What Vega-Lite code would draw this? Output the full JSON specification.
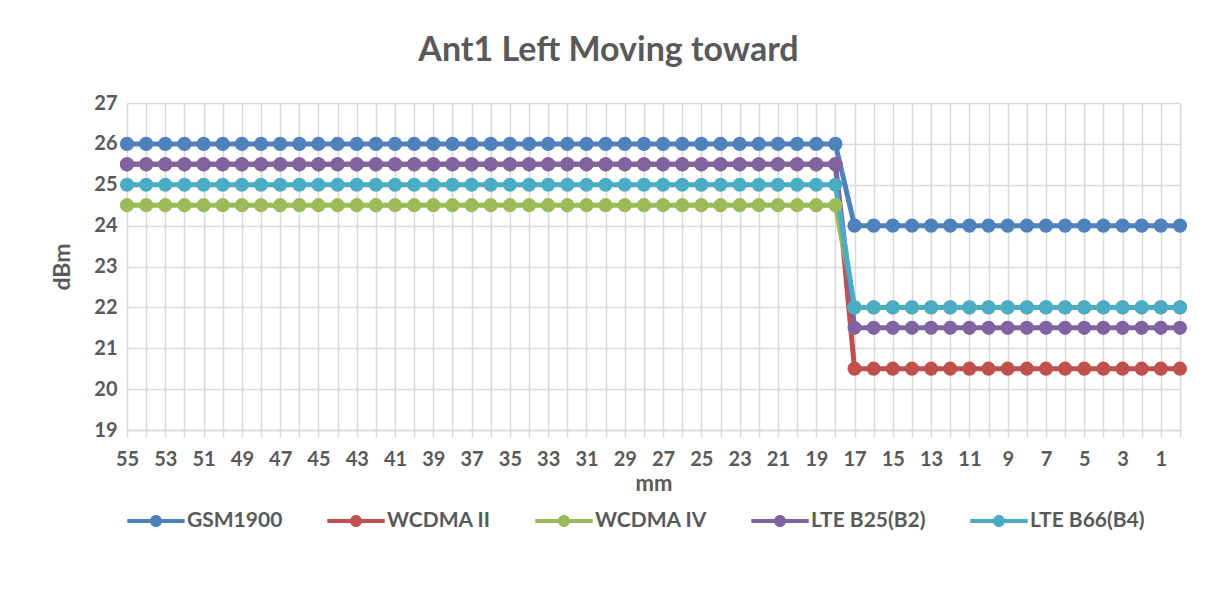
{
  "$schema": "https://vega.github.io/schema/vega-lite/v6.json",
  "width": 1053,
  "height": 327,
  "autosize": "none",
  "padding": {"left": 127, "top": 103, "right": 28, "bottom": 177},
  "background": "white",
  "config": {"view": {"stroke": null}},
  "title": {
    "text": "Ant1 Left Moving toward",
    "font": "Lato",
    "fontSize": 34,
    "fontWeight": "bold",
    "color": "#595959",
    "anchor": "middle",
    "dx": -45,
    "offset": 25
  },
  "data": {
    "values": [
      {"mm": 55, "GSM1900": 26, "WCDMA II": 25.5, "WCDMA IV": 24.5, "LTE B25(B2)": 25.5, "LTE B66(B4)": 25},
      {"mm": 54, "GSM1900": 26, "WCDMA II": 25.5, "WCDMA IV": 24.5, "LTE B25(B2)": 25.5, "LTE B66(B4)": 25},
      {"mm": 53, "GSM1900": 26, "WCDMA II": 25.5, "WCDMA IV": 24.5, "LTE B25(B2)": 25.5, "LTE B66(B4)": 25},
      {"mm": 52, "GSM1900": 26, "WCDMA II": 25.5, "WCDMA IV": 24.5, "LTE B25(B2)": 25.5, "LTE B66(B4)": 25},
      {"mm": 51, "GSM1900": 26, "WCDMA II": 25.5, "WCDMA IV": 24.5, "LTE B25(B2)": 25.5, "LTE B66(B4)": 25},
      {"mm": 50, "GSM1900": 26, "WCDMA II": 25.5, "WCDMA IV": 24.5, "LTE B25(B2)": 25.5, "LTE B66(B4)": 25},
      {"mm": 49, "GSM1900": 26, "WCDMA II": 25.5, "WCDMA IV": 24.5, "LTE B25(B2)": 25.5, "LTE B66(B4)": 25},
      {"mm": 48, "GSM1900": 26, "WCDMA II": 25.5, "WCDMA IV": 24.5, "LTE B25(B2)": 25.5, "LTE B66(B4)": 25},
      {"mm": 47, "GSM1900": 26, "WCDMA II": 25.5, "WCDMA IV": 24.5, "LTE B25(B2)": 25.5, "LTE B66(B4)": 25},
      {"mm": 46, "GSM1900": 26, "WCDMA II": 25.5, "WCDMA IV": 24.5, "LTE B25(B2)": 25.5, "LTE B66(B4)": 25},
      {"mm": 45, "GSM1900": 26, "WCDMA II": 25.5, "WCDMA IV": 24.5, "LTE B25(B2)": 25.5, "LTE B66(B4)": 25},
      {"mm": 44, "GSM1900": 26, "WCDMA II": 25.5, "WCDMA IV": 24.5, "LTE B25(B2)": 25.5, "LTE B66(B4)": 25},
      {"mm": 43, "GSM1900": 26, "WCDMA II": 25.5, "WCDMA IV": 24.5, "LTE B25(B2)": 25.5, "LTE B66(B4)": 25},
      {"mm": 42, "GSM1900": 26, "WCDMA II": 25.5, "WCDMA IV": 24.5, "LTE B25(B2)": 25.5, "LTE B66(B4)": 25},
      {"mm": 41, "GSM1900": 26, "WCDMA II": 25.5, "WCDMA IV": 24.5, "LTE B25(B2)": 25.5, "LTE B66(B4)": 25},
      {"mm": 40, "GSM1900": 26, "WCDMA II": 25.5, "WCDMA IV": 24.5, "LTE B25(B2)": 25.5, "LTE B66(B4)": 25},
      {"mm": 39, "GSM1900": 26, "WCDMA II": 25.5, "WCDMA IV": 24.5, "LTE B25(B2)": 25.5, "LTE B66(B4)": 25},
      {"mm": 38, "GSM1900": 26, "WCDMA II": 25.5, "WCDMA IV": 24.5, "LTE B25(B2)": 25.5, "LTE B66(B4)": 25},
      {"mm": 37, "GSM1900": 26, "WCDMA II": 25.5, "WCDMA IV": 24.5, "LTE B25(B2)": 25.5, "LTE B66(B4)": 25},
      {"mm": 36, "GSM1900": 26, "WCDMA II": 25.5, "WCDMA IV": 24.5, "LTE B25(B2)": 25.5, "LTE B66(B4)": 25},
      {"mm": 35, "GSM1900": 26, "WCDMA II": 25.5, "WCDMA IV": 24.5, "LTE B25(B2)": 25.5, "LTE B66(B4)": 25},
      {"mm": 34, "GSM1900": 26, "WCDMA II": 25.5, "WCDMA IV": 24.5, "LTE B25(B2)": 25.5, "LTE B66(B4)": 25},
      {"mm": 33, "GSM1900": 26, "WCDMA II": 25.5, "WCDMA IV": 24.5, "LTE B25(B2)": 25.5, "LTE B66(B4)": 25},
      {"mm": 32, "GSM1900": 26, "WCDMA II": 25.5, "WCDMA IV": 24.5, "LTE B25(B2)": 25.5, "LTE B66(B4)": 25},
      {"mm": 31, "GSM1900": 26, "WCDMA II": 25.5, "WCDMA IV": 24.5, "LTE B25(B2)": 25.5, "LTE B66(B4)": 25},
      {"mm": 30, "GSM1900": 26, "WCDMA II": 25.5, "WCDMA IV": 24.5, "LTE B25(B2)": 25.5, "LTE B66(B4)": 25},
      {"mm": 29, "GSM1900": 26, "WCDMA II": 25.5, "WCDMA IV": 24.5, "LTE B25(B2)": 25.5, "LTE B66(B4)": 25},
      {"mm": 28, "GSM1900": 26, "WCDMA II": 25.5, "WCDMA IV": 24.5, "LTE B25(B2)": 25.5, "LTE B66(B4)": 25},
      {"mm": 27, "GSM1900": 26, "WCDMA II": 25.5, "WCDMA IV": 24.5, "LTE B25(B2)": 25.5, "LTE B66(B4)": 25},
      {"mm": 26, "GSM1900": 26, "WCDMA II": 25.5, "WCDMA IV": 24.5, "LTE B25(B2)": 25.5, "LTE B66(B4)": 25},
      {"mm": 25, "GSM1900": 26, "WCDMA II": 25.5, "WCDMA IV": 24.5, "LTE B25(B2)": 25.5, "LTE B66(B4)": 25},
      {"mm": 24, "GSM1900": 26, "WCDMA II": 25.5, "WCDMA IV": 24.5, "LTE B25(B2)": 25.5, "LTE B66(B4)": 25},
      {"mm": 23, "GSM1900": 26, "WCDMA II": 25.5, "WCDMA IV": 24.5, "LTE B25(B2)": 25.5, "LTE B66(B4)": 25},
      {"mm": 22, "GSM1900": 26, "WCDMA II": 25.5, "WCDMA IV": 24.5, "LTE B25(B2)": 25.5, "LTE B66(B4)": 25},
      {"mm": 21, "GSM1900": 26, "WCDMA II": 25.5, "WCDMA IV": 24.5, "LTE B25(B2)": 25.5, "LTE B66(B4)": 25},
      {"mm": 20, "GSM1900": 26, "WCDMA II": 25.5, "WCDMA IV": 24.5, "LTE B25(B2)": 25.5, "LTE B66(B4)": 25},
      {"mm": 19, "GSM1900": 26, "WCDMA II": 25.5, "WCDMA IV": 24.5, "LTE B25(B2)": 25.5, "LTE B66(B4)": 25},
      {"mm": 18, "GSM1900": 26, "WCDMA II": 25.5, "WCDMA IV": 24.5, "LTE B25(B2)": 25.5, "LTE B66(B4)": 25},
      {"mm": 17, "GSM1900": 24, "WCDMA II": 20.5, "WCDMA IV": 22, "LTE B25(B2)": 21.5, "LTE B66(B4)": 22},
      {"mm": 16, "GSM1900": 24, "WCDMA II": 20.5, "WCDMA IV": 22, "LTE B25(B2)": 21.5, "LTE B66(B4)": 22},
      {"mm": 15, "GSM1900": 24, "WCDMA II": 20.5, "WCDMA IV": 22, "LTE B25(B2)": 21.5, "LTE B66(B4)": 22},
      {"mm": 14, "GSM1900": 24, "WCDMA II": 20.5, "WCDMA IV": 22, "LTE B25(B2)": 21.5, "LTE B66(B4)": 22},
      {"mm": 13, "GSM1900": 24, "WCDMA II": 20.5, "WCDMA IV": 22, "LTE B25(B2)": 21.5, "LTE B66(B4)": 22},
      {"mm": 12, "GSM1900": 24, "WCDMA II": 20.5, "WCDMA IV": 22, "LTE B25(B2)": 21.5, "LTE B66(B4)": 22},
      {"mm": 11, "GSM1900": 24, "WCDMA II": 20.5, "WCDMA IV": 22, "LTE B25(B2)": 21.5, "LTE B66(B4)": 22},
      {"mm": 10, "GSM1900": 24, "WCDMA II": 20.5, "WCDMA IV": 22, "LTE B25(B2)": 21.5, "LTE B66(B4)": 22},
      {"mm": 9, "GSM1900": 24, "WCDMA II": 20.5, "WCDMA IV": 22, "LTE B25(B2)": 21.5, "LTE B66(B4)": 22},
      {"mm": 8, "GSM1900": 24, "WCDMA II": 20.5, "WCDMA IV": 22, "LTE B25(B2)": 21.5, "LTE B66(B4)": 22},
      {"mm": 7, "GSM1900": 24, "WCDMA II": 20.5, "WCDMA IV": 22, "LTE B25(B2)": 21.5, "LTE B66(B4)": 22},
      {"mm": 6, "GSM1900": 24, "WCDMA II": 20.5, "WCDMA IV": 22, "LTE B25(B2)": 21.5, "LTE B66(B4)": 22},
      {"mm": 5, "GSM1900": 24, "WCDMA II": 20.5, "WCDMA IV": 22, "LTE B25(B2)": 21.5, "LTE B66(B4)": 22},
      {"mm": 4, "GSM1900": 24, "WCDMA II": 20.5, "WCDMA IV": 22, "LTE B25(B2)": 21.5, "LTE B66(B4)": 22},
      {"mm": 3, "GSM1900": 24, "WCDMA II": 20.5, "WCDMA IV": 22, "LTE B25(B2)": 21.5, "LTE B66(B4)": 22},
      {"mm": 2, "GSM1900": 24, "WCDMA II": 20.5, "WCDMA IV": 22, "LTE B25(B2)": 21.5, "LTE B66(B4)": 22},
      {"mm": 1, "GSM1900": 24, "WCDMA II": 20.5, "WCDMA IV": 22, "LTE B25(B2)": 21.5, "LTE B66(B4)": 22},
      {"mm": 0, "GSM1900": 24, "WCDMA II": 20.5, "WCDMA IV": 22, "LTE B25(B2)": 21.5, "LTE B66(B4)": 22}
    ]
  },
  "transform": [
    {"fold": ["GSM1900", "WCDMA II", "WCDMA IV", "LTE B25(B2)", "LTE B66(B4)"], "as": ["series", "dBm"]}
  ],
  "encoding": {
    "x": {
      "field": "mm",
      "type": "quantitative",
      "scale": {"domain": [0, 55], "reverse": true, "nice": false, "zero": false},
      "axis": {
        "title": "mm",
        "values": [0,1,2,3,4,5,6,7,8,9,10,11,12,13,14,15,16,17,18,19,20,21,22,23,24,25,26,27,28,29,30,31,32,33,34,35,36,37,38,39,40,41,42,43,44,45,46,47,48,49,50,51,52,53,54,55],
        "labelExpr": "datum.value % 2 == 1 ? datum.label : ''",
        "labelOverlap": false,
        "labelFlush": false,
        "labelFont": "Lato",
        "labelFontSize": 20,
        "labelFontWeight": "bold",
        "labelColor": "#595959",
        "labelPadding": 12,
        "tickSize": 7,
        "tickColor": "#d9d9d9",
        "tickWidth": 1.5,
        "domainColor": "#d9d9d9",
        "domainWidth": 1.5,
        "grid": true,
        "gridColor": "#d9d9d9",
        "gridWidth": 1.5,
        "titleFont": "Lato",
        "titleFontSize": 22,
        "titleFontWeight": "bold",
        "titleColor": "#595959",
        "titlePadding": 4
      }
    },
    "y": {
      "field": "dBm",
      "type": "quantitative",
      "scale": {"domain": [19, 27], "nice": false, "zero": false},
      "axis": {
        "title": "dBm",
        "values": [19, 20, 21, 22, 23, 24, 25, 26, 27],
        "labelFont": "Lato",
        "labelFontSize": 20,
        "labelFontWeight": "bold",
        "labelColor": "#595959",
        "labelPadding": 10,
        "ticks": false,
        "domain": false,
        "grid": true,
        "gridColor": "#d9d9d9",
        "gridWidth": 1.5,
        "titleFont": "Lato",
        "titleFontSize": 23,
        "titleFontWeight": "bold",
        "titleColor": "#595959",
        "titlePadding": 19
      }
    },
    "color": {
      "field": "series",
      "type": "nominal",
      "scale": {
        "domain": ["GSM1900", "WCDMA II", "WCDMA IV", "LTE B25(B2)", "LTE B66(B4)"],
        "range": ["#4F81BD", "#C0504D", "#9BBB59", "#8064A2", "#4BACC6"]
      },
      "legend": {
        "title": null,
        "orient": "bottom",
        "direction": "horizontal",
        "symbolType": "M-1,-0.07L1,-0.07L1,0.07L-1,0.07Z M-0.21,0A0.21,0.21 0 1,1 0.21,0A0.21,0.21 0 1,1 -0.21,0Z",
        "symbolSize": 3300,
        "symbolStrokeWidth": 0,
        "labelFont": "Lato",
        "labelFontSize": 21,
        "labelFontWeight": "bold",
        "labelColor": "#595959",
        "labelOffset": 2,
        "columnPadding": 44,
        "offset": -2,
        "encode": {
          "symbols": {
            "update": {
              "fill": {"scale": "color", "field": "value"},
              "stroke": {"value": "transparent"},
              "opacity": {"value": 1}
            }
          }
        }
      }
    }
  },
  "layer": [
    {
      "mark": {"type": "line", "strokeWidth": 5}
    },
    {
      "mark": {"type": "point", "filled": true, "size": 200, "opacity": 1, "strokeWidth": 0}
    }
  ]
}
